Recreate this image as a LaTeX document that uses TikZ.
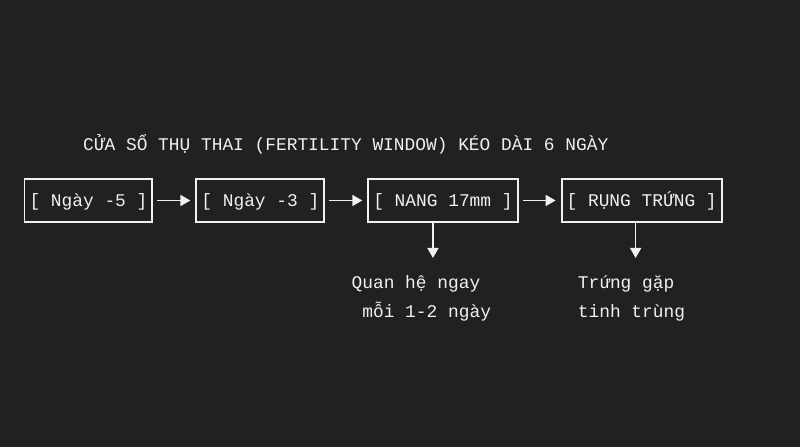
\documentclass[tikz,border=0pt]{standalone}
\usepackage{fontspec}
\setmonofont{Liberation Mono}
\usetikzlibrary{positioning,arrows.meta}
\definecolor{bgc}{RGB}{33,33,33}
\definecolor{fgc}{RGB}{240,240,240}

\begin{document}
\begin{tikzpicture}[
  x=1pt,y=1pt,
  every node/.style={text=fgc,font=\ttfamily\fontsize{17.86}{28.5}\selectfont},
  box/.style={draw=fgc,line width=1.8pt,inner xsep=5pt,inner ysep=0pt,outer sep=0pt,
    minimum height=43pt,text height=11.8pt,text depth=0pt},
  flow/.style={-{Triangle[length=10pt,width=11pt]},line width=1.6pt,fgc},
  lbl/.style={align=left,anchor=base west,inner sep=0pt}
  ]
  \fill[bgc] (0,0) rectangle (800,447);
  \useasboundingbox (0,0) rectangle (800,447);

  \node[anchor=base west,inner sep=0pt] (t00) at (83,296)
    {CỬA SỔ THỤ THAI (FERTILITY WINDOW) KÉO DÀI 6 NGÀY};

  \node[box,anchor=west] (b01) at (24.5,246.5) {[ Ngày -5 ]};
  \node[box,right=44pt of b01] (b02) {[ Ngày -3 ]};
  \node[box,right=44pt of b02] (b03) {[ NANG 17mm ]};
  \node[box,right=44pt of b03] (b04) {[ RỤNG TRỨNG ]};

  \path[flow,shorten <=5pt,shorten >=6pt]
  (b01) edge (b02)
  (b02) edge (b03)
  (b03) edge (b04);

  % arrows down to the notes
  \coordinate (t03) at ([shift={(-10,-36)}]b03.south);
  \coordinate (t04) at ([shift={(-6,-36)}]b04.south);
  \draw[flow] (b03.south -| t03) -- (t03);
  \draw[flow] (b04.south -| t04) -- (t04);

  \node[lbl] (l01) at ([shift={(-81.5,-59.5)}]t03) {Quan hệ ngay\\\ mỗi 1-2 ngày};
  \node[lbl] (l02) at ([shift={(-58,-59.5)}]t04) {Trứng gặp\\tinh trùng};
\end{tikzpicture}
\end{document}
